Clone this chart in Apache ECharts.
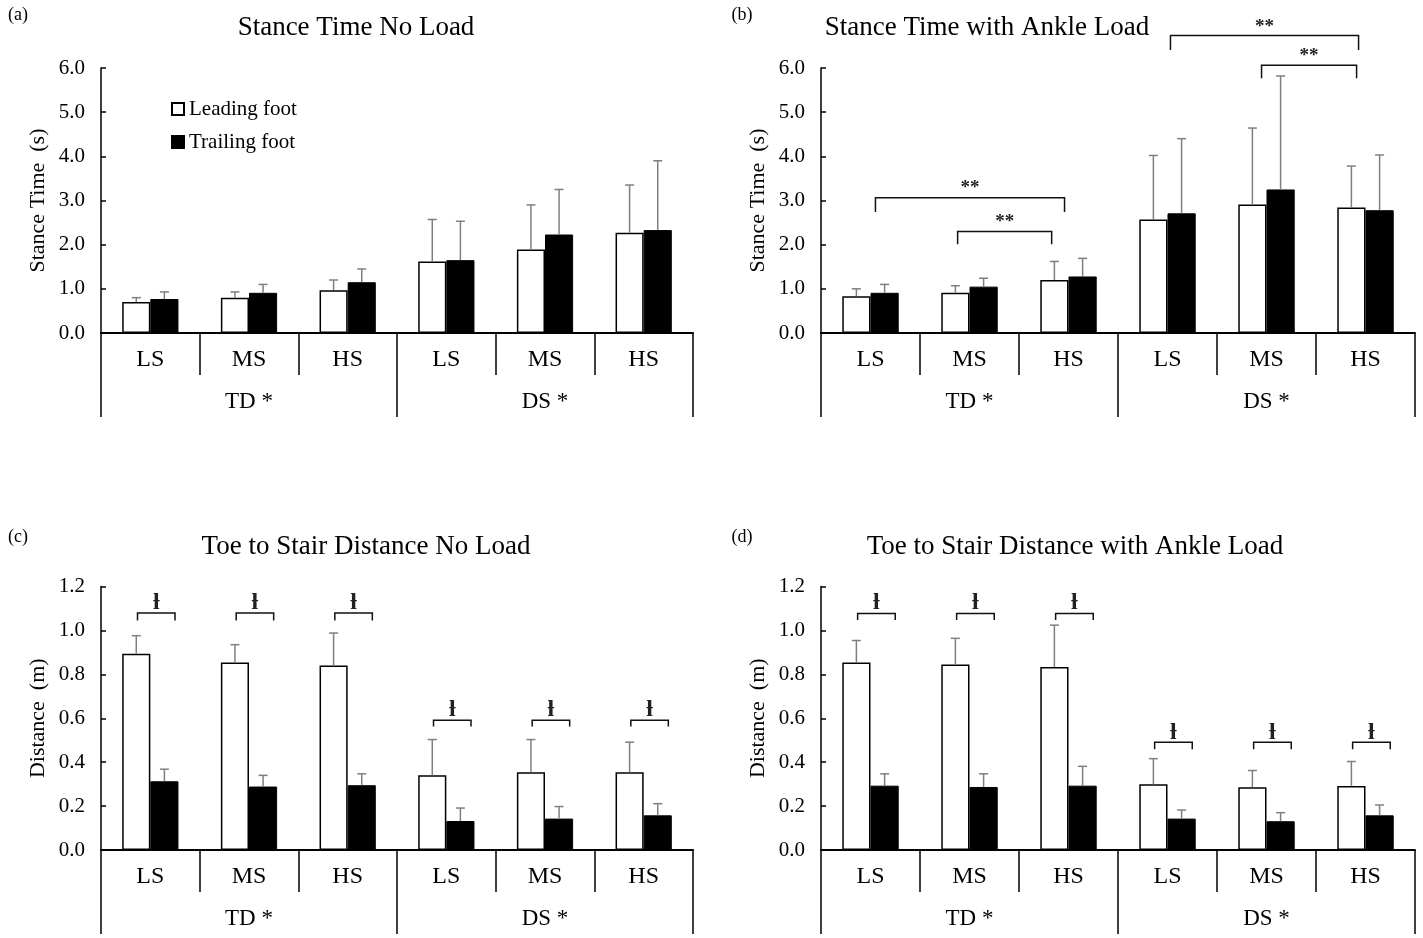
<!DOCTYPE html>
<html>
<head>
<meta charset="UTF-8">
<title>Stance time and toe to stair distance</title>
<script src="https://cdn.jsdelivr.net/npm/echarts@6/dist/echarts.min.js"></script>
<style>
  * { margin: 0; padding: 0; }
  body { background: #fff; }
  #container { width: 1423px; height: 938px; }
</style>
</head>
<body>
<div id="container"></div>
<script>
// categories
var stairs = ['LS', 'MS', 'HS', 'LS', 'MS', 'HS'];
var groups = ['TD *', 'DS *'];
var seriesNames = ['Leading foot', 'Trailing foot'];

// (a) stance time, no load (s)
var stanceNoLoadLead = [0.70, 0.80, 0.97, 1.62, 1.89, 2.27];
var stanceNoLoadLeadSd = [0.10, 0.13, 0.23, 0.95, 1.01, 1.08];
var stanceNoLoadTrail = [0.77, 0.91, 1.15, 1.65, 2.23, 2.33];
var stanceNoLoadTrailSd = [0.16, 0.19, 0.30, 0.88, 1.02, 1.57];

// (b) stance time, ankle load (s)
var stanceLoadLead = [0.83, 0.91, 1.20, 2.57, 2.91, 2.84];
var stanceLoadLeadSd = [0.17, 0.16, 0.42, 1.45, 1.73, 0.94];
var stanceLoadTrail = [0.91, 1.05, 1.28, 2.71, 3.25, 2.78];
var stanceLoadTrailSd = [0.19, 0.19, 0.41, 1.69, 2.57, 1.25];

// (c) toe to stair distance, no load (m)
var distNoLoadLead = [0.894, 0.854, 0.840, 0.340, 0.354, 0.354];
var distNoLoadLeadSd = [0.082, 0.081, 0.148, 0.163, 0.149, 0.137];
var distNoLoadTrail = [0.313, 0.289, 0.295, 0.132, 0.143, 0.158];
var distNoLoadTrailSd = [0.055, 0.051, 0.052, 0.059, 0.055, 0.053];

// (d) toe to stair distance, ankle load (m)
var distLoadLead = [0.854, 0.845, 0.833, 0.299, 0.286, 0.292];
var distLoadLeadSd = [0.100, 0.119, 0.191, 0.117, 0.076, 0.111];
var distLoadTrail = [0.293, 0.287, 0.293, 0.143, 0.131, 0.158];
var distLoadTrailSd = [0.054, 0.060, 0.088, 0.039, 0.039, 0.047];

// significance brackets: [fromCat, toCat, line value, leg end value, text value, text]
var sigStanceLoad = [
  [0, 2, 3.06, 2.74, 3.27, '**'],
  [1, 2, 2.30, 2.01, 2.51, '**'],
  [3, 5, 6.735, 6.41, 6.92, '**'],
  [4, 5, 6.06, 5.77, 6.28, '**']
];
var sigDistNoLoad = [
  [0, 0, 1.079, 1.045, 1.126, 'ƚ'],
  [1, 1, 1.079, 1.045, 1.126, 'ƚ'],
  [2, 2, 1.079, 1.045, 1.126, 'ƚ'],
  [3, 3, 0.591, 0.562, 0.638, 'ƚ'],
  [4, 4, 0.591, 0.562, 0.638, 'ƚ'],
  [5, 5, 0.591, 0.562, 0.638, 'ƚ']
];
var sigDistLoad = [
  [0, 0, 1.077, 1.047, 1.124, 'ƚ'],
  [1, 1, 1.077, 1.047, 1.124, 'ƚ'],
  [2, 2, 1.077, 1.047, 1.124, 'ƚ'],
  [3, 3, 0.491, 0.459, 0.536, 'ƚ'],
  [4, 4, 0.491, 0.459, 0.536, 'ƚ'],
  [5, 5, 0.491, 0.459, 0.536, 'ƚ']
];

var FONT = '"Liberation Serif", "Times New Roman", serif';

// leg offsets of the brackets, as a share of one category band
var nudgeB = [[0.05, -0.04], [-0.12, -0.17], [0.03, -0.07], [-0.05, -0.09]];
var nudgePair = [-0.13, 0.25];

var panels = [
  { left: 101, width: 592, top: 68, height: 265, max: 6, interval: 1, name: 'Stance Time  (s)',
    lead: stanceNoLoadLead, leadSd: stanceNoLoadLeadSd, trail: stanceNoLoadTrail, trailSd: stanceNoLoadTrailSd,
    sig: null, nudge: null, sigFont: 19 },
  { left: 821, width: 594, top: 68, height: 265, max: 6, interval: 1, name: 'Stance Time  (s)',
    lead: stanceLoadLead, leadSd: stanceLoadLeadSd, trail: stanceLoadTrail, trailSd: stanceLoadTrailSd,
    sig: sigStanceLoad, nudge: nudgeB, sigFont: 19 },
  { left: 101, width: 592, top: 586.5, height: 263.5, max: 1.2, interval: 0.2, name: 'Distance  (m)',
    lead: distNoLoadLead, leadSd: distNoLoadLeadSd, trail: distNoLoadTrail, trailSd: distNoLoadTrailSd,
    sig: sigDistNoLoad, nudge: null, sigFont: 24 },
  { left: 821, width: 594, top: 586.5, height: 263.5, max: 1.2, interval: 0.2, name: 'Distance  (m)',
    lead: distLoadLead, leadSd: distLoadLeadSd, trail: distLoadTrail, trailSd: distLoadTrailSd,
    sig: sigDistLoad, nudge: null, sigFont: 24 }
];

function errorBars(side) {
  return function (params, api) {
    var x = api.value(0), m = api.value(1), sd = api.value(2);
    var band = api.size([1, 0])[0];
    var p = api.coord([x, m]);
    var t = api.coord([x, m + sd]);
    var cx = p[0] + side * band * 0.1425;
    var st = { stroke: '#7f7f7f', lineWidth: 1.5 };
    return {
      type: 'group',
      children: [
        { type: 'line', shape: { x1: cx, y1: p[1], x2: cx, y2: t[1] }, style: st },
        { type: 'line', shape: { x1: cx - 4.5, y1: t[1], x2: cx + 4.5, y2: t[1] }, style: st }
      ]
    };
  };
}

function brackets(list, nudge, fontSize) {
  return function (params, api) {
    var b = list[params.dataIndex];
    var nd = nudge ? nudge[params.dataIndex] : nudgePair;
    var band = api.size([1, 0])[0];
    var x1 = api.coord([b[0], b[2]])[0] + nd[0] * band;
    var x2 = api.coord([b[1], b[2]])[0] + nd[1] * band;
    var y = api.coord([b[0], b[2]])[1];
    var yl = api.coord([b[0], b[3]])[1];
    var yt = api.coord([b[0], b[4]])[1];
    var st = { stroke: '#111', lineWidth: 1.5, fill: null };
    return {
      type: 'group',
      children: [
        { type: 'polyline', shape: { points: [[x1, yl], [x1, y], [x2, y], [x2, yl]] }, style: st },
        { type: 'text', x: (x1 + x2) / 2, y: yt,
          style: { text: b[5], fill: '#222', font: 'bold ' + fontSize + 'px ' + FONT,
                   textAlign: 'center', textVerticalAlign: 'middle' } }
      ]
    };
  };
}

var grids = [], xAxes = [], yAxes = [], series = [];
panels.forEach(function (p, i) {
  grids.push({ left: p.left, width: p.width, top: p.top, height: p.height });
  xAxes.push({
    type: 'category', gridIndex: i, data: stairs,
    axisLine: { lineStyle: { color: '#000', width: 2 } },
    axisTick: { show: true, interval: 0, length: 42, lineStyle: { color: '#000', width: 1.5 } },
    axisLabel: { interval: 0, color: '#000', fontFamily: FONT, fontSize: 24, margin: 15 }
  });
  xAxes.push({
    type: 'category', gridIndex: i, data: groups, position: 'bottom', offset: 42,
    axisLine: { show: false },
    axisTick: { show: true, interval: 0, length: 42, lineStyle: { color: '#000', width: 1.5 } },
    axisLabel: { interval: 0, color: '#000', fontFamily: FONT, fontSize: 23, margin: 15 }
  });
  yAxes.push({
    type: 'value', gridIndex: i, min: 0, max: p.max, interval: p.interval,
    name: p.name, nameLocation: 'middle', nameGap: 52,
    nameTextStyle: { color: '#000', fontFamily: FONT, fontSize: 22 },
    axisLine: { show: true, lineStyle: { color: '#000', width: 1.5 } },
    axisTick: { show: true, inside: true, length: 5, lineStyle: { color: '#000', width: 1.5 } },
    splitLine: { show: false },
    axisLabel: { color: '#000', fontFamily: FONT, fontSize: 21, margin: 16,
                 formatter: function (v) { return v.toFixed(1); } }
  });
  series.push({
    name: seriesNames[0], type: 'bar', xAxisIndex: 2 * i, yAxisIndex: i,
    data: p.lead, barGap: '0%', barCategoryGap: '43%',
    itemStyle: { color: '#fff', borderColor: '#000', borderWidth: 1.5 }
  });
  series.push({
    name: seriesNames[1], type: 'bar', xAxisIndex: 2 * i, yAxisIndex: i,
    data: p.trail, barGap: '0%', barCategoryGap: '43%',
    itemStyle: { color: '#000', borderColor: '#000', borderWidth: 1 }
  });
  series.push({
    type: 'custom', xAxisIndex: 2 * i, yAxisIndex: i, z: 5, clip: false,
    renderItem: errorBars(-1),
    data: p.lead.map(function (v, k) { return [k, v, p.leadSd[k]]; })
  });
  series.push({
    type: 'custom', xAxisIndex: 2 * i, yAxisIndex: i, z: 5, clip: false,
    renderItem: errorBars(1),
    data: p.trail.map(function (v, k) { return [k, v, p.trailSd[k]]; })
  });
  if (p.sig) {
    series.push({
      type: 'custom', xAxisIndex: 2 * i, yAxisIndex: i, z: 6, clip: false,
      renderItem: brackets(p.sig, p.nudge, p.sigFont),
      data: p.sig.map(function (b) { return [b[0], b[2]]; })
    });
  }
});

function label(text, x, y, size) {
  return { type: 'text', x: x, y: y,
           style: { text: text, fill: '#000', font: size + 'px ' + FONT,
                    textAlign: 'center', textVerticalAlign: 'middle' } };
}

var chart = echarts.init(document.getElementById('container'));
chart.setOption({
  backgroundColor: '#fff',
  animation: false,
  grid: grids,
  xAxis: xAxes,
  yAxis: yAxes,
  legend: {
    data: seriesNames, left: 166, top: 92, orient: 'vertical',
    icon: 'rect', itemWidth: 12, itemHeight: 12, itemGap: 9, selectedMode: false,
    textStyle: { color: '#000', fontFamily: FONT, fontSize: 21, lineHeight: 24 }
  },
  graphic: [
    label('(a)', 18, 15, 18),
    label('(b)', 742, 15, 18),
    label('(c)', 18, 537, 18),
    label('(d)', 742, 537, 18),
    label('Stance Time No Load', 356, 28, 27),
    label('Stance Time with Ankle Load', 987, 28, 27),
    label('Toe to Stair Distance No Load', 366, 547, 27),
    label('Toe to Stair Distance with Ankle Load', 1075, 547, 27)
  ],
  series: series
});
</script>
</body>
</html>
